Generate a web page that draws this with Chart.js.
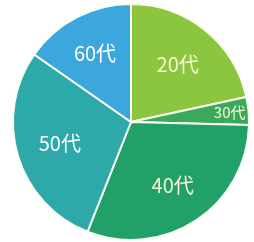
<!DOCTYPE html>
<html><head><meta charset="utf-8">
<script src="https://cdn.jsdelivr.net/npm/chart.js@4/dist/chart.umd.min.js"></script>
<style>html,body{margin:0;padding:0;background:#fff;}#w{width:254px;height:242px;}</style>
</head><body><div id="w"><canvas id="c"></canvas></div>
<script>
const categories = ['20代','30代','40代','50代','60代'];
const values = [21.6, 3.8, 30.6, 28.7, 15.3];
const sliceColors = ['#8cc63e','#3aa95c','#21a06a','#2ca9a8','#3ba7dd'];
const labelColors = ['#f6f8d2','#f6f8d2','#f6f8d2','#ffffff','#ffffff'];
const labelRadius = [0.63,0.84,0.64,0.63,0.66];
const labelSize = [20,15,20,20,20];

const labelPlugin = {
  id:'sliceLabels',
  afterDatasetsDraw(chart){
    const ctx = chart.ctx;
    const meta = chart.getDatasetMeta(0);
    meta.data.forEach((arc,i)=>{
      const p = arc.getProps(['x','y','startAngle','endAngle','outerRadius'],true);
      const mid = (p.startAngle+p.endAngle)/2;
      const r = p.outerRadius*labelRadius[i];
      const x = p.x + Math.cos(mid)*r;
      const y = p.y + Math.sin(mid)*r;
      ctx.save();
      ctx.font = labelSize[i]+'px "Noto Sans CJK JP", "Noto Sans", sans-serif';
      ctx.fillStyle = labelColors[i];
      ctx.textAlign='center'; ctx.textBaseline='middle';
      ctx.fillText(categories[i], x, y);
      ctx.restore();
    });
  }
};

new Chart(document.getElementById('c'),{
  type:'pie',
  data:{labels:categories,datasets:[{data:values,backgroundColor:sliceColors,borderColor:'#fbfdf0',borderWidth:2}]},
  options:{
    responsive:true,maintainAspectRatio:false,animation:false,
    layout:{padding:{left:10,right:2,top:3,bottom:1}},
    plugins:{legend:{display:false},tooltip:{enabled:false}}
  },
  plugins:[labelPlugin]
});
</script></body></html>
